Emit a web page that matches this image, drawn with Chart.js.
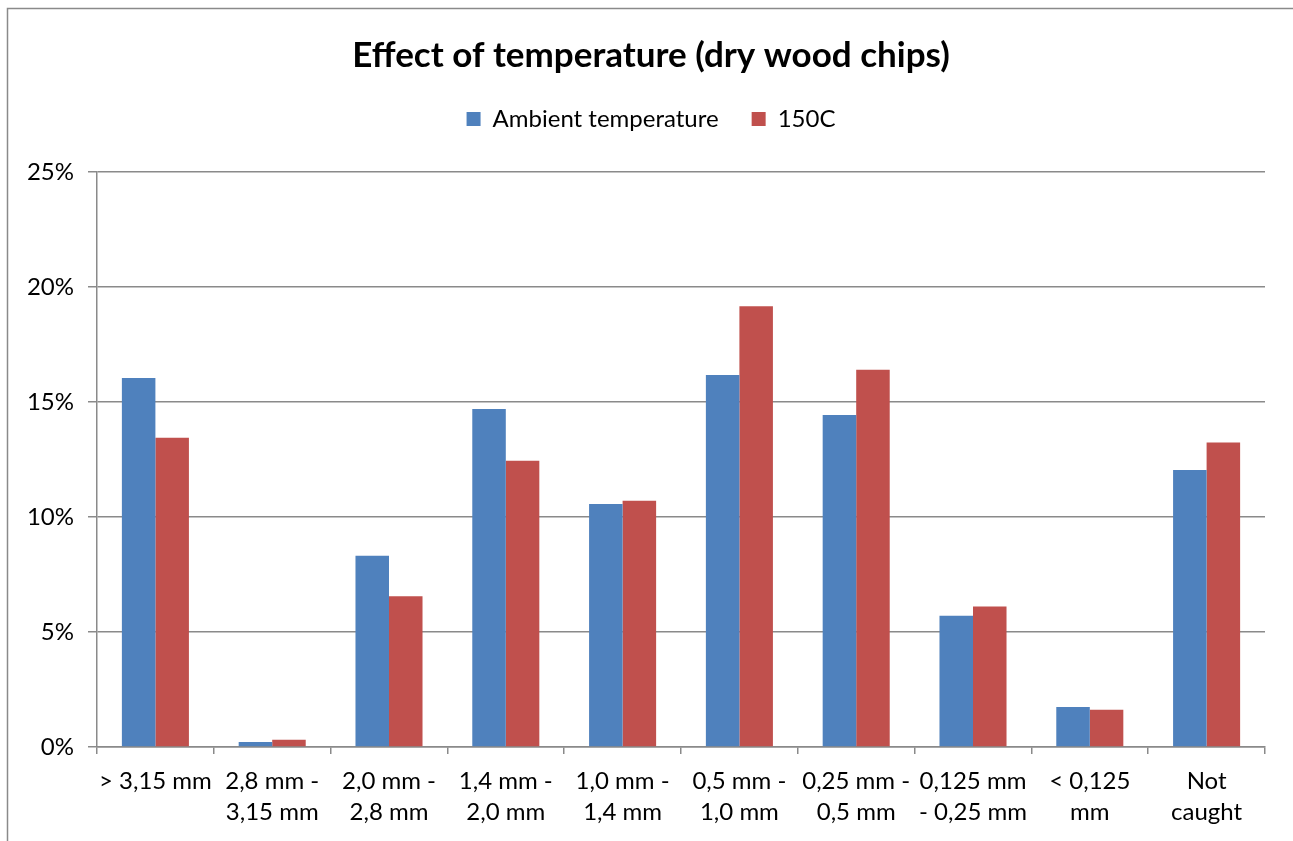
<!DOCTYPE html>
<html>
<head>
<meta charset="utf-8">
<script src="https://cdn.jsdelivr.net/npm/chart.js@4/dist/chart.umd.min.js"></script>
<style>
  html, body { margin: 0; padding: 0; background: #fff; }
  #wrap { width: 1293px; height: 841px; }
</style>
</head>
<body>
<div id="wrap"><canvas id="c" width="1293" height="841"></canvas></div>
<script>
// Particle size classes (sieve fractions)
const categories = [
  ['> 3,15 mm'],
  ['2,8 mm -', '3,15 mm'],
  ['2,0 mm -', '2,8 mm'],
  ['1,4 mm -', '2,0 mm'],
  ['1,0 mm -', '1,4 mm'],
  ['0,5 mm -', '1,0 mm'],
  ['0,25 mm -', '0,5 mm'],
  ['0,125 mm', '- 0,25 mm'],
  ['< 0,125', 'mm'],
  ['Not', 'caught']
];

// Mass share per fraction, percent
const ambientValues = [16.04, 0.22, 8.32, 14.70, 10.57, 16.17, 14.43, 5.71, 1.74, 12.04];
const hotValues     = [13.45, 0.32, 6.55, 12.45, 10.71, 19.16, 16.40, 6.11, 1.62, 13.24];

const seriesNames = ['Ambient temperature', '150C'];
const yTicks = [0, 5, 10, 15, 20, 25];

const FONT = 'Lato, "Open Sans", sans-serif';
const GRID = '#8a8a8a';
const PLOT_TOP = 172;
const LEGEND_GAP = 31;

// Thin grey frame around the chart
const framePlugin = {
  id: 'frame',
  beforeDraw(chart) {
    const ctx = chart.ctx;
    ctx.save();
    ctx.strokeStyle = '#8a8a8a';
    ctx.lineWidth = 1.5;
    ctx.strokeRect(7.5, 8.5, chart.width + 20, chart.height + 20);
    ctx.restore();
  }
};

// Extra white space between the legend row and the plot
const legendGapPlugin = {
  id: 'legendGap',
  beforeLayout(chart) {
    const lg = chart.legend;
    if (lg && !lg._gapPatched) {
      const fit = lg.fit;
      lg.fit = function () {
        fit.call(this);
        this.height += LEGEND_GAP;
      };
      lg._gapPatched = true;
    }
  }
};

new Chart(document.getElementById('c'), {
  type: 'bar',
  data: {
    labels: categories,
    datasets: [
      { label: seriesNames[0], data: ambientValues, backgroundColor: '#4F81BD', borderWidth: 0 },
      { label: seriesNames[1], data: hotValues, backgroundColor: '#C0504D', borderWidth: 0 }
    ]
  },
  options: {
    responsive: false,
    animation: false,
    devicePixelRatio: 1,
    layout: { padding: { top: 0, left: 9, right: 0, bottom: 0 } },
    datasets: { bar: { categoryPercentage: 0.574, barPercentage: 1.0 } },
    plugins: {
      title: {
        display: true,
        text: 'Effect of temperature (dry wood chips)',
        color: '#000',
        font: { family: FONT, size: 35, weight: 'bold', lineHeight: 1.05 },
        padding: { top: 37, bottom: 0 }
      },
      legend: {
        display: true,
        position: 'top',
        labels: {
          color: '#000',
          boxWidth: 14,
          boxHeight: 14,
          padding: 33,
          font: { family: FONT, size: 24 }
        }
      },
      tooltip: { enabled: false }
    },
    scales: {
      x: {
        grid: {
          display: true,
          drawOnChartArea: false,
          drawTicks: true,
          tickLength: 7,
          color: GRID,
          lineWidth: 1.5,
          offset: true
        },
        border: { display: true, color: GRID, width: 1.5 },
        ticks: {
          color: '#000',
          padding: 12,
          maxRotation: 0,
          autoSkip: false,
          font: { family: FONT, size: 24, lineHeight: 1.29 }
        },
        afterFit(scale) {
          scale.height = 94;
          scale.paddingRight = 28;
        }
      },
      y: {
        min: 0,
        max: 25,
        afterBuildTicks(scale) { scale.ticks = yTicks.map(v => ({ value: v })); },
        grid: {
          color: GRID,
          lineWidth: 1.5,
          drawTicks: true,
          tickLength: 9
        },
        border: { display: true, color: GRID, width: 1.5 },
        ticks: {
          color: '#000',
          padding: 14,
          font: { family: FONT, size: 24 },
          callback: v => v + '%'
        },
        afterFit(scale) {
          scale.width = 88;
          scale.paddingTop = PLOT_TOP;
        }
      }
    }
  },
  plugins: [framePlugin, legendGapPlugin]
});
</script>
</body>
</html>
